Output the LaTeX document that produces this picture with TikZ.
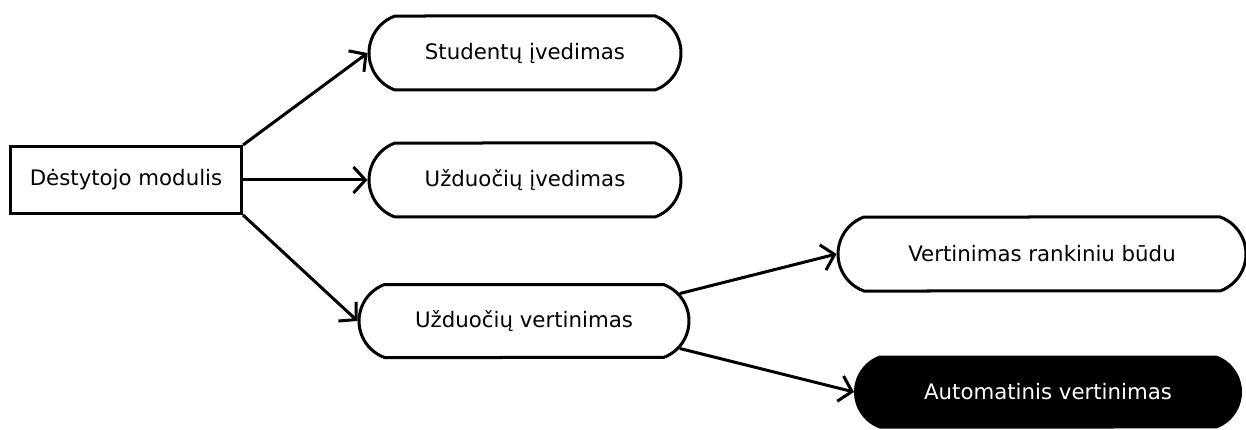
\documentclass[tikz,border=0pt]{standalone}
\usepackage{fontspec}
\setmainfont{DejaVu Sans}
\usetikzlibrary{arrows.meta,shapes.misc}
\begin{document}
\begin{tikzpicture}[>={Straight Barb[length=12pt,width=26pt]},x=1pt,y=-1pt,line width=3pt,
    modulis/.style={draw,rectangle,minimum width=231pt,minimum height=67pt,inner sep=0pt,font=\fontsize{21.3}{25}\selectfont},
    veiksmas/.style={draw,rounded rectangle,rounded rectangle arc length=140,minimum height=74pt,inner sep=0pt,font=\fontsize{21.3}{25}\selectfont}]
            \useasboundingbox (0,0) rectangle (1246,430);
            \node[modulis] (destytojas) at (126,180) {Dėstytojo modulis};
            \node[veiksmas,minimum width=312pt] (studentai) at (525,53) {Studentų įvedimas};
            \node[veiksmas,minimum width=312pt] (uzduotys) at (525,180) {Užduočių įvedimas};
            \node[veiksmas,minimum width=330pt,minimum height=73pt] (vertinimas) at (524,321) {Užduočių vertinimas};
            \node[veiksmas,minimum width=408pt] (rankinis) at (1042,254) {Vertinimas rankiniu būdu};
            \node[veiksmas,fill=black,text=white,minimum width=385pt,minimum height=70pt] (automatinis) at (1048,392) {Automatinis vertinimas};
            \draw[->] (destytojas.north east) -- (studentai.west);
            \draw[->] (destytojas.east) -- (uzduotys.west);
            \draw[->] (destytojas.south east) -- (vertinimas.west);
            \draw[->] (vertinimas.10) -- (rankinis.west);
            \draw[->] (vertinimas.-10) -- (automatinis.west);
    \end{tikzpicture}
\end{document}
